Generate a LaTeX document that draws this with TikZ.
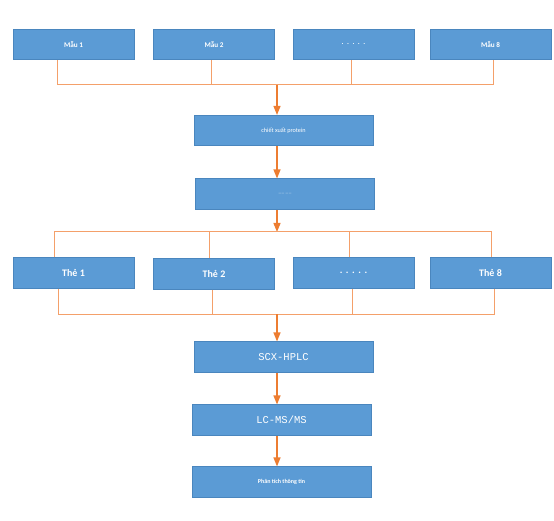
\documentclass[tikz,border=0pt]{standalone}
\usepackage{fontspec}
\setmainfont{Carlito}
\newfontfamily\monofnt{Liberation Mono}
\usetikzlibrary{arrows.meta,calc}
\definecolor{boxfill}{HTML}{5B9BD5}
\definecolor{boxline}{HTML}{4A86BE}
\definecolor{arr}{HTML}{ED7D31}
\definecolor{tline}{HTML}{F4A06A}
\tikzset{
  bx/.style={draw=boxline, fill=boxfill, line width=0.6pt, minimum height=30.5pt, inner sep=0pt, text=white, font=\bfseries},
  topbx/.style={bx, minimum width=121pt, font=\bfseries\fontsize{7.2}{8}\selectfont},
  cardbx/.style={bx, minimum width=121pt, font=\bfseries\fontsize{10}{11}\selectfont},
  midbx/.style={bx, minimum width=179pt},
  flowarr/.style={draw=arr, line width=1.3pt, -{Triangle[length=9pt,width=7pt]}},
  treeln/.style={draw=tline, line width=1pt},
}
\newcommand{\dotrow}{.\hspace{3.5pt}.\hspace{3.5pt}.\hspace{3.5pt}.\hspace{3.5pt}.}
\begin{document}
\begin{tikzpicture}[x=1pt,y=-1pt]
\useasboundingbox (0,0) rectangle (554,521);
% top row
\node[topbx] (m1) at (73.5,44.5) {Mẫu 1};
\node[topbx] (m2) at (214,44.5) {Mẫu 2};
\node[topbx] (m3) at (353.5,44.5) {\dotrow};
\node[topbx] (m8) at (490.5,44.5) {Mẫu 8};
% middle boxes
\node[midbx, font=\fontsize{6.2}{7}\selectfont] (ex) at (283.5,130.5) {chiết xuất protein};
\node[midbx, font=\fontsize{3.5}{4}\selectfont] (dg) at (285,194) {------ ------};
% cards
\node[cardbx] (t1) at (73.5,273) {Thẻ 1};
\node[cardbx] (t2) at (214,274) {Thẻ 2};
\node[cardbx] (t3) at (353.5,273) {\dotrow};
\node[cardbx] (t8) at (490.5,273) {Thẻ 8};
% lower
\node[midbx, font=\monofnt\fontsize{10.5}{11}\selectfont\mdseries] (scx) at (283.5,357) {SCX-HPLC};
\node[midbx, font=\monofnt\fontsize{10.5}{11}\selectfont\mdseries] (lc) at (281.5,420) {LC-MS/MS};
\node[midbx, font=\bfseries\fontsize{6}{7}\selectfont] (pt) at (281.5,482) {Phân tích thông tin};
% junction coordinates
\coordinate (j1) at (277,85);
\coordinate (j2) at (277,232);
\coordinate (j3) at (277,314);
% top tree
\draw[treeln] (m1.south -| 57,0) |- (j1);
\draw[treeln] (m2.south -| 211,0) -- (211,85);
\draw[treeln] (m3.south -| 351,0) -- (351,85);
\draw[treeln] (m8.south -| 493,0) |- (j1);
\draw[flowarr] (j1) -- (ex.north -| j1);
\draw[flowarr] (ex.south -| j1) -- (dg.north -| j1);
\draw[flowarr] (dg.south -| j1) -- (j2);
% card tree top
\draw[treeln] (t1.north -| 54,0) |- (j2);
\draw[treeln] (t2.north -| 209,0) -- (209,232);
\draw[treeln] (t3.north -| 349,0) -- (349,232);
\draw[treeln] (t8.north -| 491,0) |- (j2);
% card tree bottom
\draw[treeln] (t1.south -| 58,0) |- (j3);
\draw[treeln] (t2.south -| 212,0) -- (212,314);
\draw[treeln] (t3.south -| 352,0) -- (352,314);
\draw[treeln] (t8.south -| 494,0) |- (j3);
\draw[flowarr] (j3) -- (scx.north -| j3);
\draw[flowarr] (scx.south -| j3) -- (lc.north -| j3);
\draw[flowarr] (lc.south -| j3) -- (pt.north -| j3);
\end{tikzpicture}
\end{document}
